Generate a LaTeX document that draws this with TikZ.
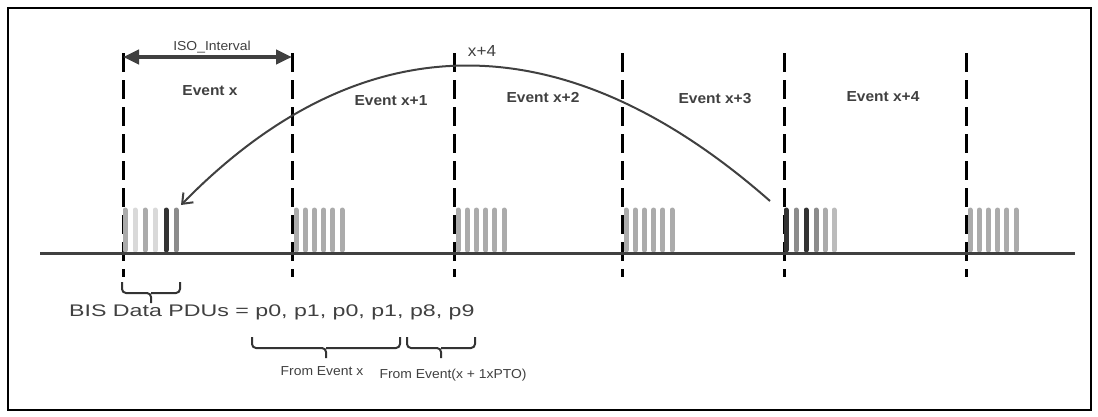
\documentclass[tikz,border=0pt]{standalone}
\usepackage{fontspec}
\setmainfont{Liberation Sans}[FakeStretch=1.07]
\newfontfamily\pdufont{Liberation Sans}[FakeStretch=1.38]
\usetikzlibrary{arrows.meta,calc}
\definecolor{ink}{HTML}{404040}
\definecolor{pktdark}{HTML}{333333}
\definecolor{pktmid}{HTML}{8C8C8C}
\definecolor{pktgray}{HTML}{ABABAB}
\definecolor{pktpale}{HTML}{BBBBBB}
\definecolor{pktlight}{HTML}{D9D9D9}

\begin{document}
\begin{tikzpicture}[
        x=1pt, y=-1pt,
        boundary/.style = {dash pattern=on 19pt off 8pt, line width=3pt},
        pkt/.style      = {line width=5pt, line cap=round},
        evt/.style      = {anchor=base, inner sep=0pt, text=ink, font=\bfseries\fontsize{14.5}{16}\selectfont},
        lbl/.style      = {anchor=base, inner sep=0pt, text=ink, font=\fontsize{13}{15}\selectfont},
        brc/.style      = {line width=2pt, draw=pktdark, rounded corners=4pt,
                           to path={-- ++(0,11)
                                    -- ($(\tikztostart)!.5!(\tikztotarget)+(0,11)$) -- ++(0,10)
                                    ($(\tikztostart)!.5!(\tikztotarget)+(0,11)$)
                                    -- ($(\tikztotarget)+(0,11)$) -- (\tikztotarget)}}
    ]
    \useasboundingbox (0,0) rectangle (1098,416);
    \draw[line width=1.5pt] (8,8) rectangle (1091,410);

    % event boundaries
    \foreach \n/\x in {0/123, 1/292, 2/454, 3/622, 4/784, 5/966} {
        \coordinate (top\n) at (\x,53);
        \coordinate (bot\n) at (\x,277);
        \draw[boundary] (top\n) -- (bot\n);
    }

    % packets
    \foreach \x/\c in {125/pktgray, 135/pktlight, 145/pktgray, 155/pktlight, 166/pktdark, 176/pktmid,
                       786/pktdark, 796/pktmid, 806/pktdark, 816/pktmid, 825/pktgray, 834/pktpale}
        \draw[pkt, \c] (\x,250) -- (\x,210);
    \foreach \s in {296, 458, 626, 970}
        \foreach \i in {0,...,5}
            \draw[pkt, pktgray] (\s+9.2*\i,250) -- (\s+9.2*\i,210);

    % time line
    \coordinate (line west) at (40,253);
    \coordinate (line east) at (1075,253);
    \draw[line width=3pt, ink] (line west) -- (line east);

    % ISO interval
    \coordinate (iso west) at (123,57);
    \coordinate (iso east) at (292,57);
    \draw[line width=4.5pt, ink, {Triangle[length=16pt,width=14pt]}-{Triangle[length=16pt,width=14pt]}]
        (iso west) -- (iso east);
    \node[lbl] (iso) at (212,50) {ISO\_Interval};

    \node[evt] (ev0) at (210,95)  {Event x};
    \node[evt] (ev1) at (391,105) {Event x+1};
    \node[evt] (ev2) at (543,102) {Event x+2};
    \node[evt] (ev3) at (715,103) {Event x+3};
    \node[evt] (ev4) at (883,101) {Event x+4};

    % retransmission arc
    \coordinate (arc from) at (770,201);
    \coordinate (arc to) at (181,205);
    \draw[line width=2pt, ink, -{Straight Barb[length=9pt,width=14pt]}]
        (arc from) .. controls (562,18) and (360,22) .. (arc to);
    \node[lbl, font=\fontsize{16}{18}\selectfont] (skip) at (482,56) {x+4};

    % PDU list
    \coordinate (b0 west) at (122,282);
    \coordinate (b0 east) at (180,282);
    \draw[brc] (b0 west) to (b0 east);
    \node[anchor=base west, inner sep=0pt, text=ink, font=\pdufont\fontsize{16.8}{19}\selectfont]
        (pdus) at (69,316) {BIS Data PDUs = p0, p1, p0, p1, p8, p9};

    \coordinate (b1 west) at (252,337);
    \coordinate (b1 east) at (400,337);
    \draw[brc] (b1 west) to (b1 east);
    \node[lbl] (from x) at (322,375) {From Event x};

    \coordinate (b2 west) at (407,337);
    \coordinate (b2 east) at (475,337);
    \draw[brc] (b2 west) to (b2 east);
    \node[lbl] (from pto) at (453,378) {From Event(x + 1xPTO)};
\end{tikzpicture}
\end{document}
